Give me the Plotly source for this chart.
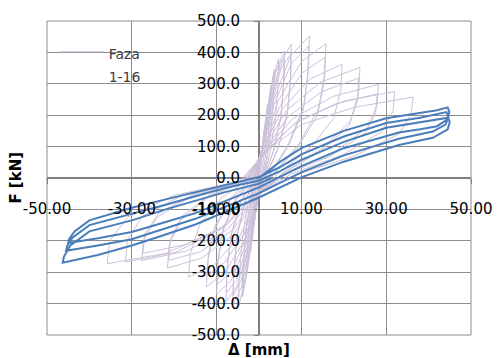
import plotly.graph_objects as go

# ---- data (displacement in mm, force in kN) ----
faza_1_16_disp = [
    0, 0.5, 1.2, 1.0, 0.5, 0.1, -0.5, -1.2, -1.0, -0.5,
    0.5, 1.2, 2.0, 1.9, 1.4, 0.6, 0, -0.8, -1.5, -2.0, -1.9, -1.4, -0.6,
    0, 0.8, 1.8, 2.8, 2.7, 2.2, 1.2, 0.3, -0.6, -1.6, -2.4, -2.9, -2.8, -2.3, -1.3,
    -0.3, 0.6, 1.6, 2.7, 3.6, 3.5, 3.0, 1.9, 0.6, -0.5, -1.6, -2.8, -3.9, -3.8, -3.2, -2.0,
    -0.5, 0.7, 2.0, 3.5, 3.4, 2.8, 1.6, 0.4, -0.8, -2.2, -3.7, -3.6, -2.9, -1.7,
    -0.6, 0.5, 1.8, 3.2, 4.6, 4.5, 3.9, 2.6, 1.0, -0.4, -1.8, -3.4, -4.8, -4.7, -4.0, -2.6,
    -1.0, 0.4, 2.0, 4.0, 6.0, 5.9, 5.2, 3.5, 1.3, -0.4, -2.0, -4.2, -6.2, -6.0, -5.2, -3.4,
    -0.9, 0.5, 2.1, 4.1, 5.9, 5.8, 5.1, 3.4, 1.2, -0.4, -2.1, -4.3, -6.1, -5.9, -5.1, -3.3,
    -1.2, 0.5, 2.4, 5.0, 7.6, 7.5, 6.7, 4.5, 1.6, -0.5, -2.4, -5.2, -7.8, -7.6, -6.6, -4.2,
    -1.1, 0.5, 2.5, 5.1, 7.5, 7.4, 6.6, 4.4, 1.5, -0.5, -2.5, -5.3, -7.7, -7.5, -6.5, -4.1,
    -1.5, 0.6, 3.5, 7.5, 11.9, 11.7, 10.6, 7.0, 2.5, -0.5, -3.0, -6.5, -10.0, -9.8, -8.5, -5.5,
    -1.4, 0.6, 3.6, 7.6, 11.7, 11.5, 10.4, 6.9, 2.4, -0.5, -3.1, -6.6, -9.9, -9.7, -8.4, -5.4,
    -2.0, 0.8, 4.5, 10.0, 15.8, 15.5, 14.0, 9.5, 3.5, -0.5, -3.5, -8.0, -12.4, -12.1, -10.5, -6.8,
    -1.8, 0.8, 4.8, 10.2, 15.6, 15.3, 13.8, 9.3, 3.4, -0.5, -3.6, -8.2, -12.2, -11.9, -10.3, -6.6,
    -2.5, 1.0, 5.5, 12.0, 19.6, 19.3, 17.6, 12.0, 4.5, -0.6, -4.5, -10.5, -16.6, -16.2, -14.0, -9.0,
    -3.0, 1.2, 6.5, 14.5, 23.8, 23.5, 21.5, 14.5, 5.5, -0.8, -6.0, -13.5, -21.6, -21.2, -18.5, -12.0,
    -2.8, 1.2, 6.8, 14.8, 23.5, 23.2, 21.2, 14.2, 5.3, -0.8, -6.2, -13.8, -21.3, -20.9, -18.2, -11.8,
    -3.5, 1.5, 8.0, 17.5, 28.2, 27.8, 25.5, 17.5, 6.5, -1.0, -7.5, -17.0, -27.7, -27.2, -24.0, -15.5,
    -3.3, 1.5, 8.2, 17.8, 27.9, 27.5, 25.2, 17.2, 6.3, -1.0, -7.7, -17.3, -27.4, -26.9, -23.7, -15.2,
    -4.0, 1.6, 9.0, 20.0, 32.0, 31.6, 29.0, 20.0, 7.5, -1.1, -8.5, -19.5, -31.5, -31.0, -27.5, -17.8,
    -4.5, 1.8, 10.0, 22.5, 36.4, 35.8, 33.0, 22.5, 8.5, -1.2, -9.5, -22.0, -35.8, -35.2, -31.0, -20.0, -6.0,
]
faza_1_16_force = [
    0, 70, 150, 100, 40, 0, -70, -150, -100, -40,
    60, 150, 235, 170, 90, 20, -30, -110, -185, -235, -170, -95, -25,
    15, 100, 200, 295, 220, 130, 40, -15, -80, -180, -255, -300, -230, -140, -50,
    0, 80, 180, 280, 345, 270, 170, 60, -10, -80, -190, -300, -379, -290, -180, -70,
    0, 90, 210, 330, 250, 150, 45, -20, -110, -240, -350, -260, -150, -55,
    -5, 70, 190, 310, 380, 300, 190, 80, 0, -70, -200, -330, -410, -320, -200, -80,
    -10, 70, 200, 340, 405, 320, 200, 90, 5, -70, -210, -350, -405, -310, -190, -80,
    -8, 75, 195, 320, 380, 300, 190, 85, 5, -65, -200, -330, -375, -290, -180, -75,
    -10, 80, 220, 365, 426, 330, 210, 95, 5, -75, -215, -345, -394, -300, -185, -75,
    -10, 78, 210, 345, 395, 305, 195, 90, 5, -70, -205, -325, -365, -280, -175, -70,
    -10, 90, 250, 390, 452, 350, 230, 110, 10, -70, -210, -325, -370, -280, -170, -70,
    -10, 85, 235, 365, 420, 325, 215, 100, 8, -65, -195, -300, -340, -260, -160, -65,
    -10, 95, 245, 370, 428, 330, 220, 110, 15, -70, -200, -300, -347, -265, -165, -70,
    -10, 85, 225, 335, 385, 300, 200, 100, 12, -65, -180, -270, -312, -240, -150, -62,
    -10, 95, 220, 315, 362, 280, 190, 95, 15, -65, -185, -275, -316, -240, -150, -65,
    -10, 95, 215, 305, 352, 270, 180, 90, 15, -65, -180, -255, -287, -215, -135, -60,
    -10, 85, 195, 275, 318, 245, 165, 82, 12, -60, -165, -235, -262, -195, -122, -55,
    -10, 90, 190, 260, 298, 230, 160, 80, 15, -60, -165, -232, -263, -195, -125, -55,
    -10, 80, 172, 235, 268, 208, 145, 72, 12, -55, -150, -212, -240, -178, -113, -50,
    -10, 88, 180, 245, 275, 212, 148, 75, 12, -58, -160, -236, -268, -196, -122, -53,
    -10, 85, 170, 225, 258, 200, 140, 70, 10, -60, -165, -240, -273, -200, -125, -55, -15,
]

faza_17_disp = [
    0, 3, 5, 10, 20, 30, 38, 42, 44.5,
    44.9, 44.3, 42, 38, 33, 20, 10, 0, -8, -15, -22, -30, -38, -45,
    -44.8, -43.5, -40, -30, -22, -15, -8, 0, 5, 10, 20, 30, 38, 42, 44.2,
    44.7, 44, 41, 33, 20, 10, 0, -8, -15, -22, -30, -38, -45.5,
    -45.2, -44, -40, -30, -22, -15, -8, 0, 5, 10, 20, 30, 38, 42, 44.6,
    45, 44.5, 41, 33, 20, 10, 0, -8, -15, -22, -30, -38, -46.3,
    -46, -44.5, -40, -30, -22, -15, -8, 0, 3,
]
faza_17_force = [
    0, 30, 52, 95, 150, 190, 206, 216, 225,
    210, 185, 165, 155, 145, 95, 38, -30, -75, -112, -140, -172, -192, -207,
    -195, -170, -135, -95, -68, -45, -22, 3, 35, 75, 132, 175, 192, 203, 210,
    195, 170, 148, 125, 72, 18, -48, -92, -130, -160, -195, -215, -232,
    -215, -190, -150, -115, -85, -58, -32, -8, 22, 58, 115, 160, 178, 186, 192,
    178, 155, 128, 105, 52, 2, -62, -108, -148, -180, -215, -245, -270,
    -250, -215, -170, -135, -100, -72, -45, -18, 0,
]

x_tick_vals = [-50, -30, -10, 10, 30, 50]
x_tick_text = ["-50.00", "-30.00", "-10.00", "10.00", "30.00", "50.00"]
y_tick_vals = [-500, -400, -300, -200, -100, 0, 100, 200, 300, 400, 500]
y_tick_text = ["-500.0", "-400.0", "-300.0", "-200.0", "-100.0", "0.0",
               "100.0", "200.0", "300.0", "400.0", "500.0"]
legend_lines = ["Faza", "1-16"]
x_title = "Δ [mm]"
y_title = "F [kN]"

LAV = "#CCC1DA"
BLUE = "#4A7EBB"
GRID = "#8C8C8C"
AXIS = "#808080"
FONT = "DejaVu Sans"

legend_name = "<br>".join('<span style="font-size:14px">%s</span>' % s for s in legend_lines)

fig = go.Figure()
fig.add_trace(go.Scatter(x=faza_1_16_disp, y=faza_1_16_force, mode="lines",
                         name=legend_name, line=dict(color=LAV, width=1)))
fig.add_trace(go.Scatter(x=faza_17_disp, y=faza_17_force, mode="lines",
                         showlegend=False, line=dict(color=BLUE, width=2)))

fig.update_layout(
    width=504, height=358,
    margin=dict(l=47, r=23, t=18, b=23),
    paper_bgcolor="white", plot_bgcolor="white",
    font=dict(family=FONT, size=15, color="#000000"),
    showlegend=True,
    legend=dict(x=0.018, y=0.96, xanchor="left", yanchor="top",
                bgcolor="rgba(0,0,0,0)", font=dict(family=FONT, size=18, color="#404040"),
                valign="top", itemwidth=44, tracegroupgap=0),
    xaxis=dict(range=[-50, 50], tickvals=x_tick_vals, ticktext=x_tick_text,
               showgrid=True, gridcolor=GRID, gridwidth=1,
               zeroline=True, zerolinecolor=AXIS, zerolinewidth=2,
               anchor="free", position=0.5, side="bottom",
               ticks="outside", ticklen=5, tickcolor=AXIS,
               ticklabelstandoff=12,
               showline=False, tickfont=dict(family=FONT, size=15)),
    yaxis=dict(range=[-500, 500], tickvals=y_tick_vals, ticktext=y_tick_text,
               showgrid=True, gridcolor=GRID, gridwidth=1,
               zeroline=True, zerolinecolor=AXIS, zerolinewidth=2,
               anchor="free", position=0.5, side="left",
               ticks="outside", ticklen=5, tickcolor=AXIS,
               ticklabelstandoff=11,
               showline=False, tickfont=dict(family=FONT, size=15)),
    shapes=[dict(type="rect", xref="paper", yref="paper", x0=0, y0=0, x1=1, y1=1,
                 line=dict(color=GRID, width=1), layer="below")],
    annotations=[
        dict(text="<b>%s</b>" % y_title, xref="paper", yref="paper", x=-0.074, y=0.5,
             textangle=-90, showarrow=False, xanchor="center", yanchor="middle",
             font=dict(family=FONT, size=15, color="#000000")),
        dict(text="<b>%s</b>" % x_title, xref="paper", yref="paper", x=0.5, y=-0.047,
             showarrow=False, xanchor="center", yanchor="middle",
             font=dict(family=FONT, size=15, color="#000000")),
    ],
)

fig.write_html("out.html",
               config={"displayModeBar": False},
               post_script="document.body.style.margin='0px';document.body.style.overflow='hidden';")
